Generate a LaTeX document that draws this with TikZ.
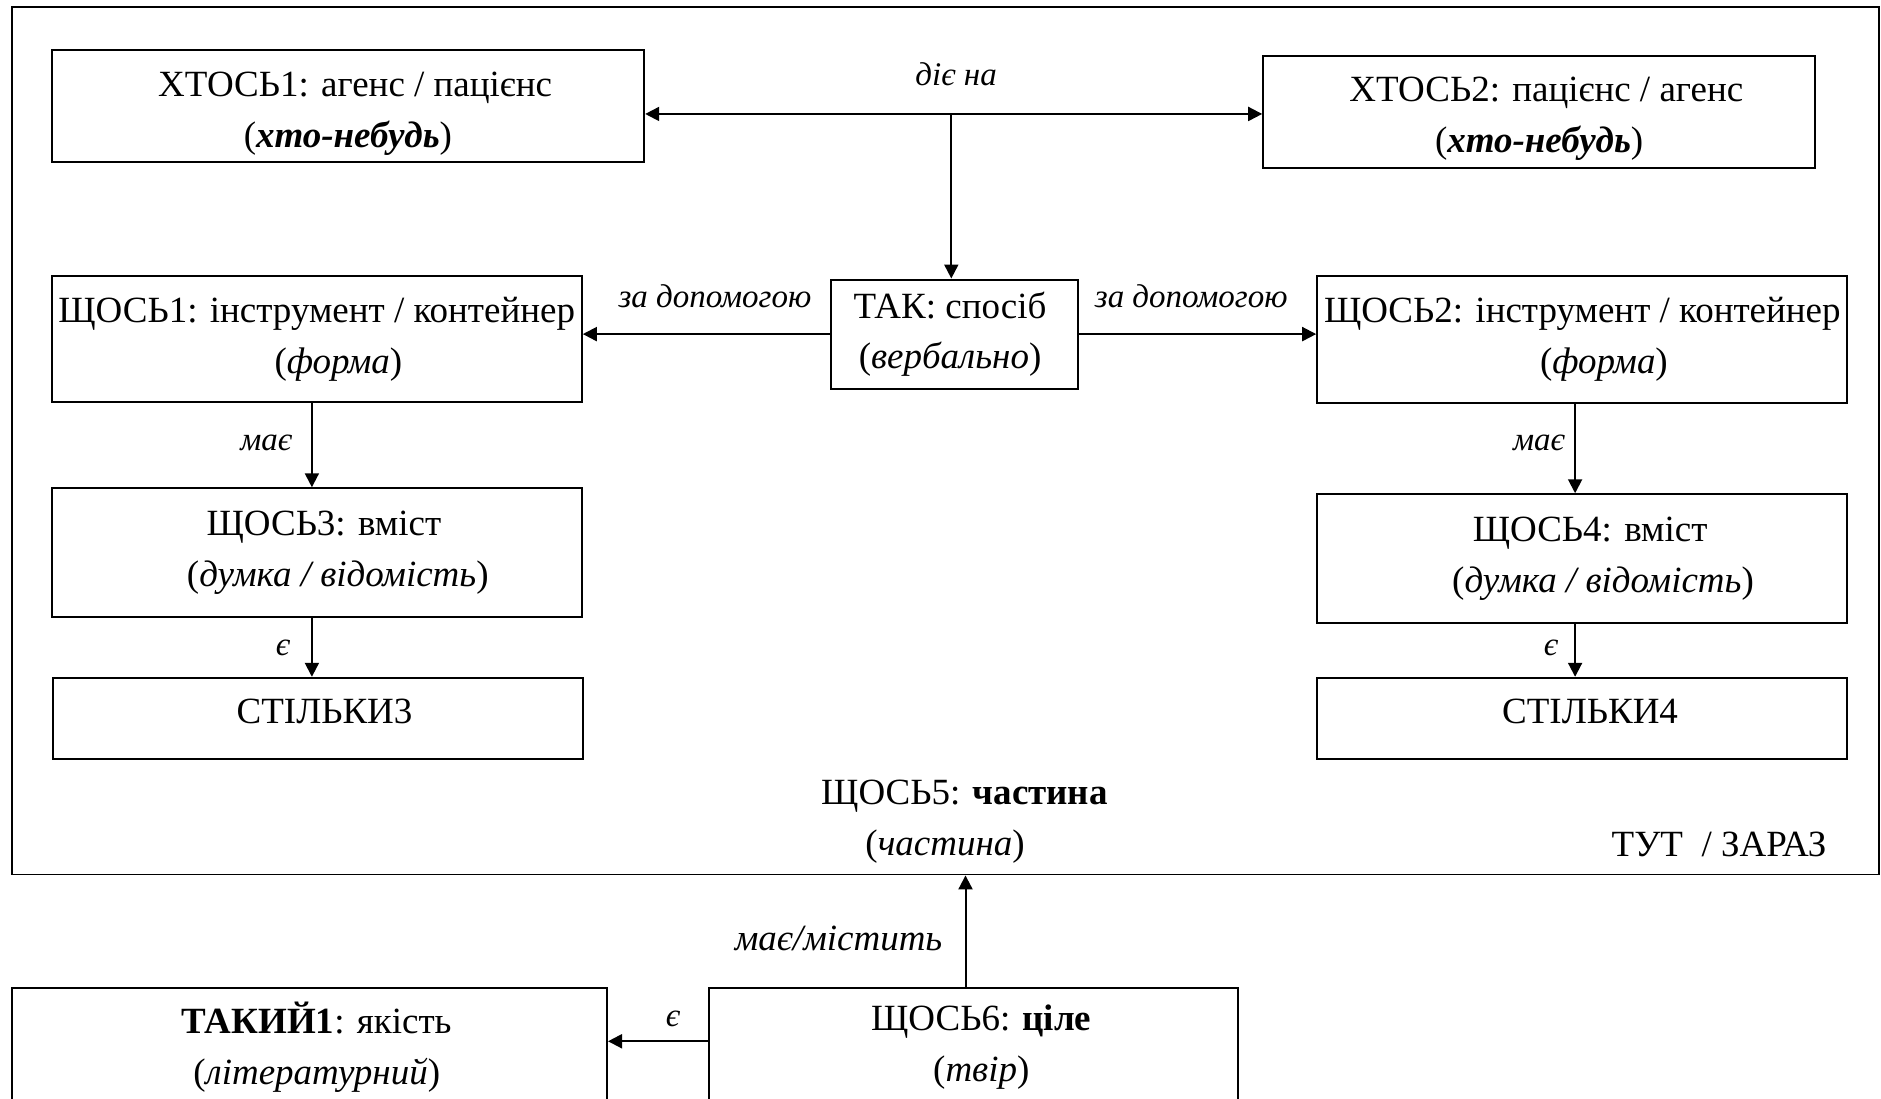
\documentclass[tikz,border=0pt]{standalone}
\usepackage{fontspec}
\setmainfont{Liberation Serif}
\usetikzlibrary{arrows.meta}
\newcommand{\mainsz}{\fontsize{18.5}{25.4}\selectfont}
\newcommand{\lblsz}{\fontsize{16.5}{19}\selectfont}
\newcommand{\sh}[1]{\hspace*{#1em}}
\begin{document}
\begin{tikzpicture}[x=0.6pt,y=-0.6pt,
  bx/.style 2 args={draw, line width=1pt, rectangle, inner sep=0pt, align=center,
    font=\mainsz, minimum width=#1*0.6pt, minimum height=#2*0.6pt},
  lbl/.style={font=\lblsz\itshape, inner sep=0pt},
  biglbl/.style={font=\mainsz\itshape, inner sep=0pt},
  txt/.style={font=\mainsz, inner sep=0pt, align=center},
  link/.style={line width=1pt, -{Triangle[length=7pt,width=7pt]}},
  dlink/.style={line width=1pt, {Triangle[length=7pt,width=7pt]}-{Triangle[length=7pt,width=7pt]}}]
\useasboundingbox (0,0) rectangle (1568,916);
\clip (0,0) rectangle (1568,916);

% outer frame (here / now)
\node[draw, line width=0.9pt, inner sep=0pt, minimum width=1556*0.6pt, minimum height=723*0.6pt]
  (frame) at (788,367.5) {};

% participants
\node[bx={494}{93}] (x1) at (290,88.5)
  {\rule{0pt}{20pt}\sh{0.39}ХТОСЬ1: агенс / пацієнс\\(\textbf{\textit{хто-небудь}})};
\node[bx={460}{93}] (x2) at (1283,93.5)
  {\rule{0pt}{19pt}\sh{0.39}ХТОСЬ2: пацієнс / агенс\\(\textbf{\textit{хто-небудь}})};

% manner
\node[bx={206}{91}] (tak) at (796,278.5) {\sh{-0.26}ТАК: спосіб\\\sh{-0.26}(\textit{вербально})};

% instruments / containers
\node[bx={442}{105}] (s1) at (264,282.5) {ЩОСЬ1: інструмент / контейнер\\\sh{1.17}(\textit{форма})};
\node[bx={442}{106}] (s2) at (1319,283) {ЩОСЬ2: інструмент / контейнер\\\sh{1.17}(\textit{форма})};

% contents
\node[bx={442}{107}] (s3) at (264,460.5) {\sh{0.39}ЩОСЬ3: вміст\\\sh{1.14}(\textit{думка / відомість})};
\node[bx={442}{107}] (s4) at (1319,465.5) {\sh{0.42}ЩОСЬ4: вміст\\\sh{1.12}(\textit{думка / відомість})};

% quantities
\node[bx={442}{68}, text depth=7.5pt] (st3) at (265,599) {\sh{0.36}СТІЛЬКИ3};
\node[bx={442}{68}, text depth=7.5pt] (st4) at (1319,599) {\sh{0.42}СТІЛЬКИ4};

% part and place/time
\node[txt] (s5) at (804,685) {ЩОСЬ5: \textbf{частина}\\\sh{-1.05}(\textit{частина})};
\node[txt] (here) at (1433,704) {ТУТ \ / ЗАРАЗ};

% whole and its quality
\node[bx={496}{98}] (t1) at (258,873) {\sh{0.39}\textbf{ТАКИЙ1}: якість\\\sh{0.39}(\textit{літературний})};
\node[bx={441}{98}] (s6) at (811.5,873) {\sh{0.42}ЩОСЬ6: \textbf{ціле}\\\sh{0.42}(\textit{твір})};

% connectors
\coordinate (hub) at (793,95);
\draw[dlink] (x1.east |- hub) -- (x2.west |- hub);
\draw[link] (hub) -- (hub |- tak.north);
\node[lbl] (l0) at (797,62) {діє на};

\draw[link] (tak.west) -- (tak.west -| s1.east);
\draw[link] (tak.east) -- (tak.east -| s2.west);
\node[lbl] (l1) at (596,247) {за допомогою};
\node[lbl] (l2) at (993,247) {за допомогою};

\draw[link] ([xshift=-2.4pt]s1.south) -- ([xshift=-2.4pt]s1.south |- s3.north);
\draw[link] ([xshift=-2.4pt]s3.south) -- ([xshift=-2.4pt]s3.south |- st3.north);
\node[lbl] (l3) at (222,369) {має};
\node[lbl] (l4) at (236,540) {є};

\draw[link] ([xshift=-3.6pt]s2.south) -- ([xshift=-3.6pt]s2.south |- s4.north);
\draw[link] ([xshift=-3.6pt]s4.south) -- ([xshift=-3.6pt]s4.south |- st4.north);
\node[lbl] (l5) at (1283,369) {має};
\node[lbl] (l6) at (1293,540) {є};

\draw[link] ([xshift=-4pt]s6.north) -- ([xshift=-4pt]s6.north |- frame.south);
\node[biglbl] (l7) at (699,782) {має/містить};

\draw[link] ([yshift=3pt]s6.west) -- ([yshift=3pt]s6.west -| t1.east);
\node[lbl] (l8) at (561,849) {є};
\end{tikzpicture}
\end{document}
